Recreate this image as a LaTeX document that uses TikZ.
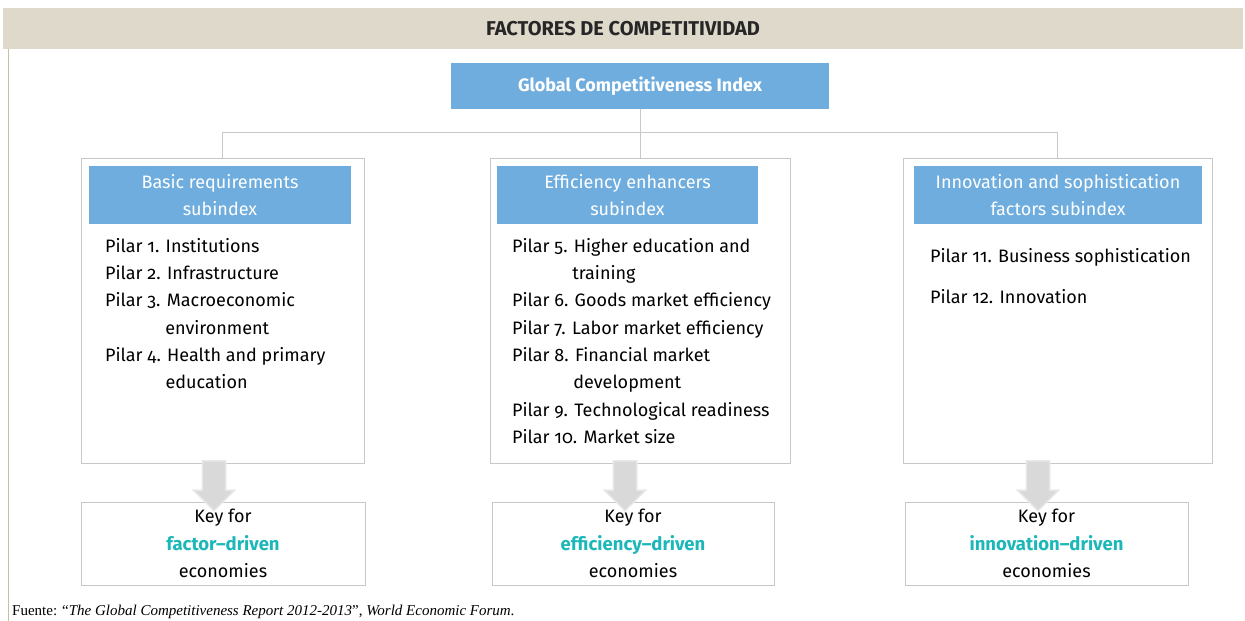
\documentclass[tikz,border=0pt]{standalone}
\usepackage{fontspec}
\setmainfont{Fira Sans}[Numbers=OldStyle]
\newfontfamily\notefont{Liberation Serif}
\usetikzlibrary{shapes.arrows}
\definecolor{beige}{HTML}{DFD9CB}
\definecolor{beigeline}{HTML}{C9BFA5}
\definecolor{hdrblue}{HTML}{6FADDE}
\definecolor{linegray}{HTML}{C8C8C8}
\definecolor{arrowgray}{HTML}{D9D9D9}
\definecolor{arrowedge}{HTML}{E8E8E8}
\definecolor{keyteal}{HTML}{1CB7B9}
\newcommand*{\boxtop}{158}
\newcommand*{\boxht }{305}
\newcommand*{\hdrht }{58}
\newcommand*{\keyht }{83}
\newcommand*{\txt}{\fontsize{18}{27.3}\selectfont}
\newcommand*{\hang}[1]{\phantom{Pilar #1.\ }}
\tikzset{
	band/.style={
		fill = beige,
		text = black!85,
		minimum width = 1240,
		minimum height = 41,
		inner sep = 0,
		font = \fontsize{20}{22}\selectfont\bfseries,
		},
	topbox/.style={
		fill = hdrblue,
		text = white,
		minimum width = 378,
		minimum height = 46,
		inner sep = 0,
		font = \fontsize{18}{20}\selectfont\bfseries,
		},
	pillarbox/.style={
		draw = linegray,
		line width = 1,
		fill = white,
		minimum width = #1,
		minimum height = \boxht,
		inner sep = 0,
		},
	subhdr/.style={
		fill = hdrblue,
		text = white,
		minimum width = #1,
		minimum height = \hdrht,
		inner sep = 0,
		align = center,
		font = \fontsize{18}{27}\selectfont,
		},
	pillars/.style={
		anchor = north west,
		inner sep = 0,
		align = left,
		font = \txt,
		},
	keybox/.style={
		draw = linegray,
		line width = 1,
		minimum width = #1,
		minimum height = \keyht,
		inner sep = 0,
		align = center,
		font = \txt,
		},
	blockarrow/.style={
		single arrow,
		shape border rotate = 270,
		fill = arrowgray,
		draw = arrowedge,
		line width = 1.5,
		inner sep = 11,
		single arrow head extend = 9,
		minimum height = 50,
		},
	link/.style={draw = linegray, line width = 1},
	}
\begin{document}
\begin{tikzpicture}[x=1pt, y=-1pt]
	\useasboundingbox (0,0) rectangle (1245,621);
	% title band
	\node (title) [band] at (623,28.5) {FACTORES DE COMPETITIVIDAD};
	\coordinate (edge) at (8,49);
	\draw [beigeline, line width=1] (edge) -- ++(0,572);
	% index
	\node (gci) [topbox] at (640,86) {Global Competitiveness Index};
	% three subindex boxes
	\node (basic) [pillarbox=283] at (222.5,\boxtop+\boxht/2) {};
	\node (effic) [pillarbox=300] at (640,  \boxtop+\boxht/2) {};
	\node (innov) [pillarbox=309] at (1057.5,\boxtop+\boxht/2) {};
	\coordinate (hub) at (640,132);
	\draw [link] (gci.south) -- (hub);
	\draw [link] (hub) -| (basic.north);
	\draw [link] (hub) -| (innov.north);
	\draw [link] (hub) -- (effic.north);
	\node (hbasic) [subhdr=262] at (220,  195) {Basic requirements\\subindex};
	\node (heffic) [subhdr=261] at (627.5,195) {Efficiency enhancers\\subindex};
	\node (hinnov) [subhdr=288] at (1058, 195) {Innovation and sophistication\\factors subindex};
	% pillars
	\node (lbasic) [pillars] at (105,238) {%
		Pilar 1. Institutions\\
		Pilar 2. Infrastructure\\
		Pilar 3. Macroeconomic\\
		\hang{3}environment\\
		Pilar 4. Health and primary\\
		\hang{4}education};
	\node (leffic) [pillars] at (512,238) {%
		Pilar 5. Higher education and\\
		\hang{5}training\\
		Pilar 6. Goods market efficiency\\
		Pilar 7. Labor market efficiency\\
		Pilar 8. Financial market\\
		\hang{8}development\\
		Pilar 9. Technological readiness\\
		Pilar 10. Market size};
	\node (linnov) [pillars, font=\fontsize{18}{41}\selectfont] at (930,248) {%
		Pilar 11. Business sophistication\\
		Pilar 12. Innovation};
	% keys
	\node (kbasic) [keybox=284] at (223,  543.5) {Key for\\\textcolor{keyteal}{\fontsize{18.5}{27.3}\selectfont\bfseries factor–driven}\\economies};
	\node (keffic) [keybox=282] at (633,  543.5) {Key for\\\textcolor{keyteal}{\fontsize{18.5}{27.3}\selectfont\bfseries efficiency–driven}\\economies};
	\node (kinnov) [keybox=283] at (1046.5,543.5) {Key for\\\textcolor{keyteal}{\fontsize{18.5}{27.3}\selectfont\bfseries innovation–driven}\\economies};
	\node (abasic) [blockarrow] at (214, 480) {};
	\node (aeffic) [blockarrow] at (625, 480) {};
	\node (ainnov) [blockarrow] at (1038,480) {};
	% source
	\node (src) [anchor=base west, inner sep=0, font=\notefont\fontsize{15}{17}\selectfont] at (12,615)
		{Fuente: “\textit{The Global Competitiveness Report 2012-2013}”, \textit{World Economic Forum}.};
\end{tikzpicture}
\end{document}
